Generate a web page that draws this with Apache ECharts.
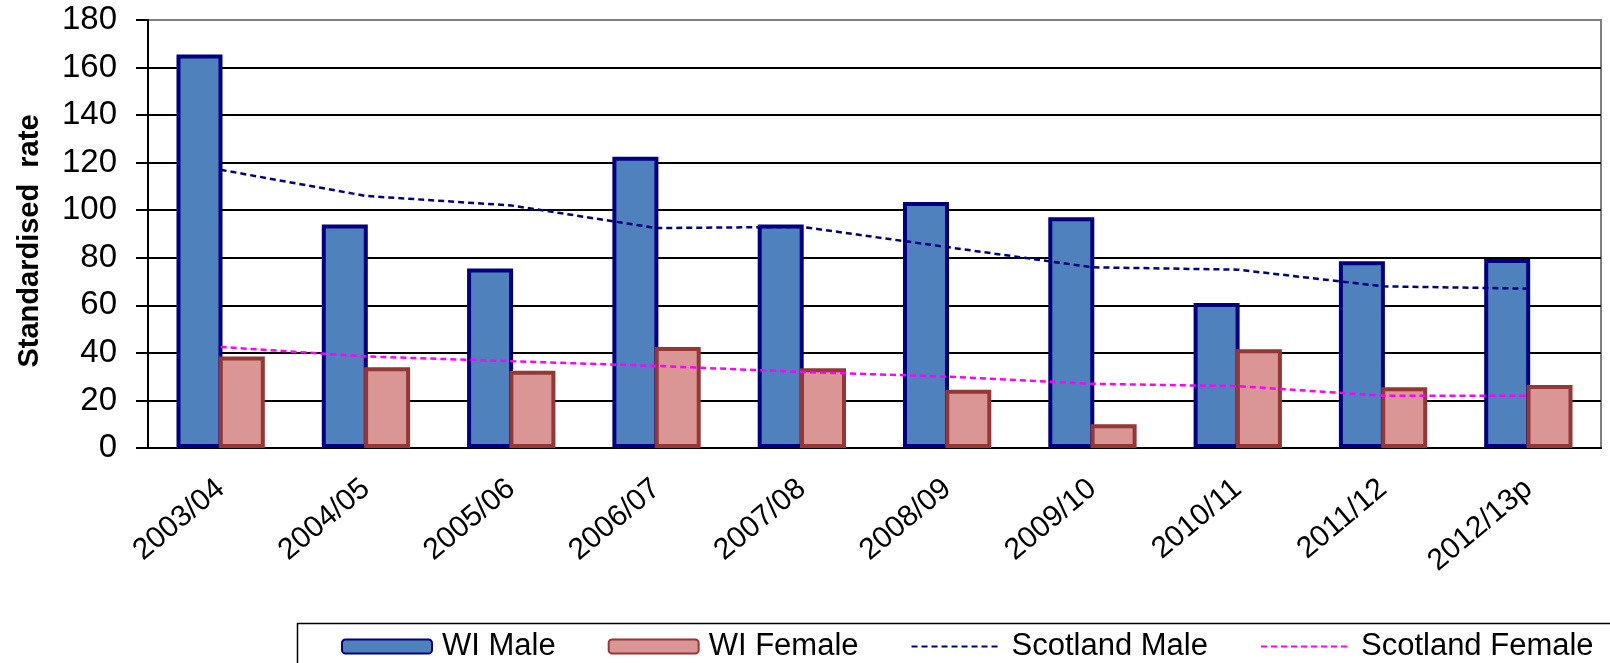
<!DOCTYPE html>
<html>
<head>
<meta charset="utf-8">
<script src="https://cdn.jsdelivr.net/npm/echarts@6/dist/echarts.min.js"></script>
<style>
  html, body { margin: 0; padding: 0; background: #fff; }
  #chart { width: 1610px; height: 663px; }
</style>
</head>
<body>
<div id="chart"></div>
<script>
const years = ['2003/04', '2004/05', '2005/06', '2006/07', '2007/08', '2008/09', '2009/10', '2010/11', '2011/12', '2012/13p']
const wiMale = [165.5, 94, 75.5, 122.5, 94, 103.5, 97, 61, 78.5, 79.5]
const wiFemale = [38.5, 34, 32.5, 42.5, 33.5, 24.5, 10, 41.5, 25.5, 26.5]
const scotlandMale = [117, 106, 102, 92.5, 93, 84.5, 76, 75, 68, 67]
const scotlandFemale = [42.5, 38.5, 36.5, 34.5, 32, 30, 27, 26, 22, 22]

const font = 'Liberation Sans, Arial, sans-serif'

// gridlines black, the top one (180) grey like the plot frame
const gridColors = ['#000', '#000', '#000', '#000', '#000', '#000', '#000', '#000', '#000', '#808080']

const chart = echarts.init(document.getElementById('chart'))

const option = {
  animation: false,
  textStyle: { fontFamily: font, color: '#000' },
  grid: {
    left: 148,
    right: 9,
    top: 20,
    bottom: 215,
    show: true,
    borderColor: '#808080',
    borderWidth: 2
  },
  // legend frame, runs off the right and bottom edge like the original
  graphic: [
    {
      type: 'rect',
      left: 295,
      top: 621,
      shape: { width: 1400, height: 100 },
      style: { fill: null, stroke: '#000', lineWidth: 1.5 },
      silent: true
    }
  ],
  legend: {
    left: 341,
    top: 631,
    padding: 0,
    width: 1300,
    itemWidth: 90,
    itemHeight: 14,
    itemGap: 52,
    textStyle: { fontSize: 31, lineHeight: 30, color: '#000', fontFamily: font, padding: [0, 0, 0, 5] },
    data: [
      'WI Male',
      'WI Female',
      { name: 'Scotland Male', itemStyle: { opacity: 0 } },
      { name: 'Scotland Female', itemStyle: { opacity: 0 } }
    ]
  },
  xAxis: {
    type: 'category',
    data: years,
    axisLine: { lineStyle: { color: '#000', width: 2 } },
    axisTick: { length: 8, lineStyle: { color: '#000', width: 2 } },
    axisLabel: {
      interval: 0,
      rotate: 40,
      margin: 37,
      fontSize: 30,
      color: '#000'
    }
  },
  yAxis: {
    type: 'value',
    min: 0,
    max: 180,
    interval: 20,
    name: 'Standardised  rate',
    nameLocation: 'middle',
    nameGap: 104,
    nameTextStyle: { fontSize: 29, fontWeight: 'bold', color: '#000', padding: [0, 14, 0, 0] },
    axisLine: { show: true, lineStyle: { color: '#000', width: 2 } },
    axisTick: { show: true, length: 12, lineStyle: { color: '#000', width: 2 } },
    axisLabel: { margin: 31, fontSize: 33, color: '#000' },
    splitLine: { lineStyle: { color: gridColors, width: 2 } }
  },
  series: [
    {
      name: 'WI Male',
      type: 'bar',
      data: wiMale,
      barWidth: 46,
      barGap: '-8%',
      itemStyle: { color: '#4F81BD', borderColor: '#000080', borderWidth: 4 }
    },
    {
      name: 'WI Female',
      type: 'bar',
      data: wiFemale,
      barWidth: 46,
      itemStyle: { color: '#D99694', borderColor: '#953735', borderWidth: 4 }
    },
    {
      name: 'Scotland Male',
      type: 'line',
      data: scotlandMale,
      symbol: 'none',
      lineStyle: { color: '#000080', width: 2.5, type: [6, 4] },
      itemStyle: { color: '#000080' }
    },
    {
      name: 'Scotland Female',
      type: 'line',
      data: scotlandFemale,
      symbol: 'none',
      lineStyle: { color: '#FF00FF', width: 2.5, type: [6, 4] },
      itemStyle: { color: '#FF00FF' }
    }
  ]
}

chart.setOption(option)
</script>
</body>
</html>
